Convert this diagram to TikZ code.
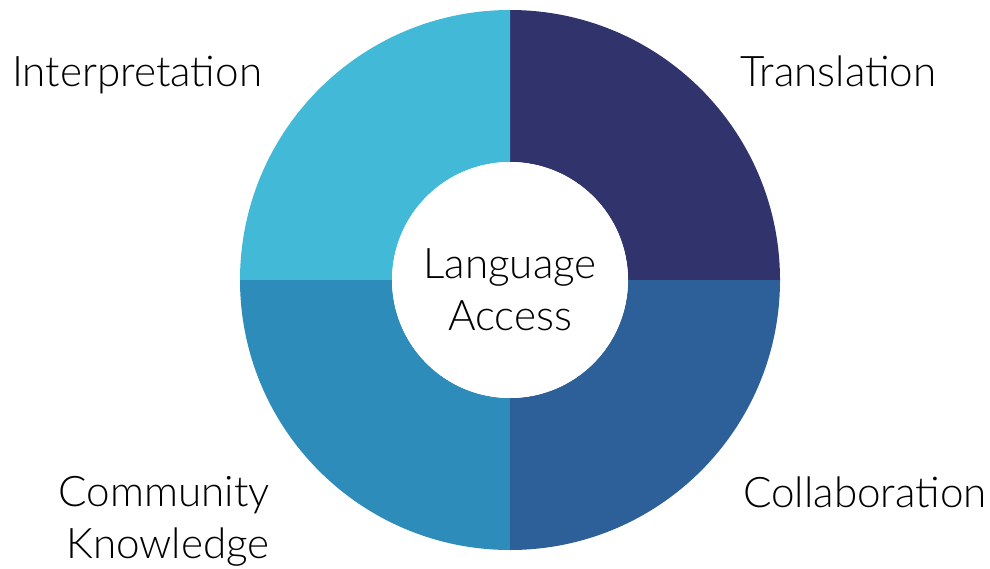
\documentclass[tikz,border=0pt]{standalone}
\usepackage{fontspec}
\setmainfont{Lato Light}

\definecolor{trans}{HTML}{31346C}
\definecolor{interp}{HTML}{43B9D8}
\definecolor{commk}{HTML}{2E8CBB}
\definecolor{collab}{HTML}{2D6098}

\tikzset{
	label/.style={font=\fontsize{30}{36.5}\selectfont, inner sep=0pt}
}

\begin{document}
\begin{tikzpicture}[x=0.025cm, y=0.025cm]
		\useasboundingbox (0,0) rectangle (990,568);
		
		% Draw ring
		\foreach \a/\c in {0/trans, 90/interp, 180/commk, 270/collab} {
			\fill[\c] (510,288) ++(\a:118) -- ++(\a:152) arc[start angle=\a, end angle=\a+90, radius=270]
				-- ++(\a+90:-152) arc[start angle=\a+90, end angle=\a, radius=118] -- cycle;
		}
		
		% Centre
		\fill[white] (510,288) circle (118);
		\node[label, align=center, anchor=base] (centre) at (510,238) {Language\\Access};
		
		% Quarter labels
		\node[label, anchor=base west] (interpretation) at (12,481) {Interpretation};
		\node[label, anchor=base west] (translation) at (740,481) {Translation};
		\node[label, anchor=base west] (collaboration) at (743,61) {Collaboration};
		\node[label, anchor=base east, align=right] (community) at (270,10) {Community\\Knowledge};
	\end{tikzpicture}
\end{document}
